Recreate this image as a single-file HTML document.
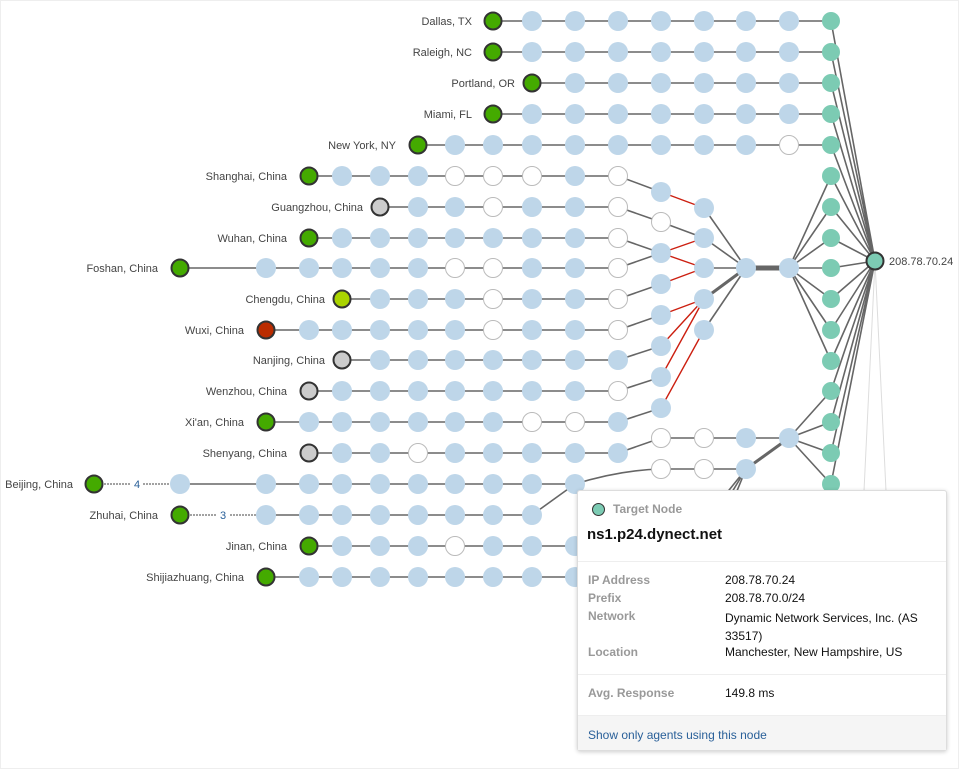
<!DOCTYPE html>
<html><head><meta charset="utf-8"><style>
html,body{margin:0;padding:0;background:#fff;width:960px;height:770px;overflow:hidden;font-family:"Liberation Sans",sans-serif}
svg{position:absolute;left:0;top:0}
.l{fill:none;stroke:#666;stroke-width:1.6}
.r{fill:none;stroke:#cc1f10;stroke-width:1.4}
.b{fill:#bed6e9}
.w{fill:#fff;stroke:#bbb;stroke-width:1}
.t{fill:#7ccbb3}
.g{fill:#44aa00;stroke:#333;stroke-width:2}
.gy{fill:#ccc;stroke:#333;stroke-width:2}
text{font-family:"Liberation Sans",sans-serif;font-size:11px;fill:#444}
#tip{position:absolute;left:577px;top:490px;width:370px;height:261px;background:#fff;border:1px solid #ddd;border-radius:3px;box-shadow:0 1px 4px rgba(0,0,0,.2);box-sizing:border-box;font-size:12px}
.k{position:absolute;left:10px;color:#999;font-weight:bold}
.v{position:absolute;left:147px;color:#111}
</style></head><body>
<svg width="960" height="770" viewBox="0 0 960 770">
<rect x="0.5" y="0.5" width="958" height="768" fill="none" stroke="#eee"/>
<!-- horizontal rows -->
<g class="l">
<path d="M493,21H831M493,52H831M532,83H831M493,114H831M418,145H831"/>
<path d="M309,176H618M380,207H618M309,238H618M180,268H618M342,299H618M266,330H618M342,360H618M309,391H618M266,422H618M309,453H618"/>
<path d="M180,484H575M266,515H532M309,546H600M266,577H600"/>
<path d="M618,176L661,192M618,207L661,222L704,238M618,238L661,253M618,268L661,253M618,299L661,284M618,330L661,315M618,360L661,346M618,391L661,377M618,422L661,408M618,453L661,438H789M575,484Q620,470 661,469H746M532,515L575,484"/>
<path d="M704,208L746,268M704,238L746,268M704,268L746,268M704,330L746,268"/>
<path d="M704,299L746,268" stroke-width="3"/>
<path d="M746,268H789" stroke-width="5"/>
<path d="M789,268L831,176M789,268L831,207M789,268L831,238M789,268L831,268M789,268L831,299M789,268L831,330M789,268L831,361"/>
<path d="M789,438L831,391M789,438L831,422M789,438L831,453M789,438L831,484"/>
<path d="M746,469L789,438" stroke-width="3"/>
<path d="M746,469L705,520M746,469L715,520M746,469L725,520"/>
<path d="M831,21L875,261M831,52L875,261M831,83L875,261M831,114L875,261M831,145L875,261M831,176L875,261M831,207L875,261M831,238L875,261M831,268L875,261M831,299L875,261M831,330L875,261M831,361L875,261M831,391L875,261M831,422L875,261M831,453L875,261M831,484L875,261"/>
</g>
<g class="r">
<path d="M661,192L704,208M661,253L704,238M661,253L704,268M661,284L704,268M661,315L704,299M661,346L704,299M661,377L704,299M661,408L704,330"/>
</g>
<g stroke="#444" stroke-width="1" stroke-dasharray="2,1" fill="none">
<path d="M104,484H131M143,484H170M190,515H216M230,515H256"/>
</g>
<text x="134" y="488" style="fill:#2a6099">4</text>
<text x="220" y="519" style="fill:#2a6099">3</text>
<!-- pointer -->
<path d="M875,261L864,491H886Z" fill="#fff" stroke="#ddd" stroke-width="1"/>
<!-- nodes -->
<g class="b">
<circle cx="532" cy="21" r="10"/><circle cx="575" cy="21" r="10"/><circle cx="618" cy="21" r="10"/><circle cx="661" cy="21" r="10"/><circle cx="704" cy="21" r="10"/><circle cx="746" cy="21" r="10"/><circle cx="789" cy="21" r="10"/>
<circle cx="532" cy="52" r="10"/><circle cx="575" cy="52" r="10"/><circle cx="618" cy="52" r="10"/><circle cx="661" cy="52" r="10"/><circle cx="704" cy="52" r="10"/><circle cx="746" cy="52" r="10"/><circle cx="789" cy="52" r="10"/>
<circle cx="575" cy="83" r="10"/><circle cx="618" cy="83" r="10"/><circle cx="661" cy="83" r="10"/><circle cx="704" cy="83" r="10"/><circle cx="746" cy="83" r="10"/><circle cx="789" cy="83" r="10"/>
<circle cx="532" cy="114" r="10"/><circle cx="575" cy="114" r="10"/><circle cx="618" cy="114" r="10"/><circle cx="661" cy="114" r="10"/><circle cx="704" cy="114" r="10"/><circle cx="746" cy="114" r="10"/><circle cx="789" cy="114" r="10"/>
<circle cx="455" cy="145" r="10"/><circle cx="493" cy="145" r="10"/><circle cx="532" cy="145" r="10"/><circle cx="575" cy="145" r="10"/><circle cx="618" cy="145" r="10"/><circle cx="661" cy="145" r="10"/><circle cx="704" cy="145" r="10"/><circle cx="746" cy="145" r="10"/>
<circle cx="342" cy="176" r="10"/><circle cx="380" cy="176" r="10"/><circle cx="418" cy="176" r="10"/><circle cx="575" cy="176" r="10"/>
<circle cx="418" cy="207" r="10"/><circle cx="455" cy="207" r="10"/><circle cx="532" cy="207" r="10"/><circle cx="575" cy="207" r="10"/>
<circle cx="342" cy="238" r="10"/><circle cx="380" cy="238" r="10"/><circle cx="418" cy="238" r="10"/><circle cx="455" cy="238" r="10"/><circle cx="493" cy="238" r="10"/><circle cx="532" cy="238" r="10"/><circle cx="575" cy="238" r="10"/>
<circle cx="266" cy="268" r="10"/><circle cx="309" cy="268" r="10"/><circle cx="342" cy="268" r="10"/><circle cx="380" cy="268" r="10"/><circle cx="418" cy="268" r="10"/><circle cx="532" cy="268" r="10"/><circle cx="575" cy="268" r="10"/>
<circle cx="380" cy="299" r="10"/><circle cx="418" cy="299" r="10"/><circle cx="455" cy="299" r="10"/><circle cx="532" cy="299" r="10"/><circle cx="575" cy="299" r="10"/>
<circle cx="309" cy="330" r="10"/><circle cx="342" cy="330" r="10"/><circle cx="380" cy="330" r="10"/><circle cx="418" cy="330" r="10"/><circle cx="455" cy="330" r="10"/><circle cx="532" cy="330" r="10"/><circle cx="575" cy="330" r="10"/>
<circle cx="380" cy="360" r="10"/><circle cx="418" cy="360" r="10"/><circle cx="455" cy="360" r="10"/><circle cx="493" cy="360" r="10"/><circle cx="532" cy="360" r="10"/><circle cx="575" cy="360" r="10"/><circle cx="618" cy="360" r="10"/>
<circle cx="342" cy="391" r="10"/><circle cx="380" cy="391" r="10"/><circle cx="418" cy="391" r="10"/><circle cx="455" cy="391" r="10"/><circle cx="493" cy="391" r="10"/><circle cx="532" cy="391" r="10"/><circle cx="575" cy="391" r="10"/>
<circle cx="309" cy="422" r="10"/><circle cx="342" cy="422" r="10"/><circle cx="380" cy="422" r="10"/><circle cx="418" cy="422" r="10"/><circle cx="455" cy="422" r="10"/><circle cx="493" cy="422" r="10"/><circle cx="618" cy="422" r="10"/>
<circle cx="342" cy="453" r="10"/><circle cx="380" cy="453" r="10"/><circle cx="455" cy="453" r="10"/><circle cx="493" cy="453" r="10"/><circle cx="532" cy="453" r="10"/><circle cx="575" cy="453" r="10"/><circle cx="618" cy="453" r="10"/>
<circle cx="180" cy="484" r="10"/><circle cx="266" cy="484" r="10"/><circle cx="309" cy="484" r="10"/><circle cx="342" cy="484" r="10"/><circle cx="380" cy="484" r="10"/><circle cx="418" cy="484" r="10"/><circle cx="455" cy="484" r="10"/><circle cx="493" cy="484" r="10"/><circle cx="532" cy="484" r="10"/><circle cx="575" cy="484" r="10"/>
<circle cx="266" cy="515" r="10"/><circle cx="309" cy="515" r="10"/><circle cx="342" cy="515" r="10"/><circle cx="380" cy="515" r="10"/><circle cx="418" cy="515" r="10"/><circle cx="455" cy="515" r="10"/><circle cx="493" cy="515" r="10"/><circle cx="532" cy="515" r="10"/>
<circle cx="342" cy="546" r="10"/><circle cx="380" cy="546" r="10"/><circle cx="418" cy="546" r="10"/><circle cx="493" cy="546" r="10"/><circle cx="532" cy="546" r="10"/><circle cx="575" cy="546" r="10"/>
<circle cx="309" cy="577" r="10"/><circle cx="342" cy="577" r="10"/><circle cx="380" cy="577" r="10"/><circle cx="418" cy="577" r="10"/><circle cx="455" cy="577" r="10"/><circle cx="493" cy="577" r="10"/><circle cx="532" cy="577" r="10"/><circle cx="575" cy="577" r="10"/>
<circle cx="661" cy="192" r="10"/><circle cx="661" cy="253" r="10"/><circle cx="661" cy="284" r="10"/><circle cx="661" cy="315" r="10"/><circle cx="661" cy="346" r="10"/><circle cx="661" cy="377" r="10"/><circle cx="661" cy="408" r="10"/>
<circle cx="704" cy="208" r="10"/><circle cx="704" cy="238" r="10"/><circle cx="704" cy="268" r="10"/><circle cx="704" cy="299" r="10"/><circle cx="704" cy="330" r="10"/>
<circle cx="746" cy="268" r="10"/><circle cx="789" cy="268" r="10"/><circle cx="746" cy="438" r="10"/><circle cx="789" cy="438" r="10"/><circle cx="746" cy="469" r="10"/>
</g>
<g class="w">
<circle cx="789" cy="145" r="9.5"/>
<circle cx="455" cy="176" r="9.5"/><circle cx="493" cy="176" r="9.5"/><circle cx="532" cy="176" r="9.5"/><circle cx="618" cy="176" r="9.5"/>
<circle cx="493" cy="207" r="9.5"/><circle cx="618" cy="207" r="9.5"/>
<circle cx="618" cy="238" r="9.5"/>
<circle cx="455" cy="268" r="9.5"/><circle cx="493" cy="268" r="9.5"/><circle cx="618" cy="268" r="9.5"/>
<circle cx="493" cy="299" r="9.5"/><circle cx="618" cy="299" r="9.5"/>
<circle cx="493" cy="330" r="9.5"/><circle cx="618" cy="330" r="9.5"/>
<circle cx="618" cy="391" r="9.5"/>
<circle cx="532" cy="422" r="9.5"/><circle cx="575" cy="422" r="9.5"/>
<circle cx="418" cy="453" r="9.5"/>
<circle cx="455" cy="546" r="9.5"/>
<circle cx="661" cy="222" r="9.5"/><circle cx="661" cy="438" r="9.5"/><circle cx="704" cy="438" r="9.5"/><circle cx="661" cy="469" r="9.5"/><circle cx="704" cy="469" r="9.5"/>
</g>
<g class="t">
<circle cx="831" cy="21" r="9"/><circle cx="831" cy="52" r="9"/><circle cx="831" cy="83" r="9"/><circle cx="831" cy="114" r="9"/><circle cx="831" cy="145" r="9"/><circle cx="831" cy="176" r="9"/><circle cx="831" cy="207" r="9"/><circle cx="831" cy="238" r="9"/><circle cx="831" cy="268" r="9"/><circle cx="831" cy="299" r="9"/><circle cx="831" cy="330" r="9"/><circle cx="831" cy="361" r="9"/><circle cx="831" cy="391" r="9"/><circle cx="831" cy="422" r="9"/><circle cx="831" cy="453" r="9"/><circle cx="831" cy="484" r="9"/>
</g>
<circle cx="875" cy="261" r="8.5" fill="#7ccbb3" stroke="#333" stroke-width="2"/>
<text x="889" y="265">208.78.70.24</text>
<g class="g">
<circle cx="493" cy="21" r="8.5"/><circle cx="493" cy="52" r="8.5"/><circle cx="532" cy="83" r="8.5"/><circle cx="493" cy="114" r="8.5"/><circle cx="418" cy="145" r="8.5"/>
<circle cx="309" cy="176" r="8.5"/><circle cx="309" cy="238" r="8.5"/><circle cx="180" cy="268" r="8.5"/><circle cx="266" cy="422" r="8.5"/>
<circle cx="94" cy="484" r="8.5"/><circle cx="180" cy="515" r="8.5"/><circle cx="309" cy="546" r="8.5"/><circle cx="266" cy="577" r="8.5"/>
</g>
<g class="gy"><circle cx="380" cy="207" r="8.5"/><circle cx="342" cy="360" r="8.5"/><circle cx="309" cy="391" r="8.5"/><circle cx="309" cy="453" r="8.5"/></g>
<circle cx="342" cy="299" r="8.5" fill="#aad400" stroke="#333" stroke-width="2"/>
<circle cx="266" cy="330" r="8.5" fill="#bb2c00" stroke="#333" stroke-width="2"/>
<g text-anchor="end">
<text x="472" y="25">Dallas, TX</text>
<text x="472" y="56">Raleigh, NC</text>
<text x="515" y="87">Portland, OR</text>
<text x="472" y="118">Miami, FL</text>
<text x="396" y="149">New York, NY</text>
<text x="287" y="180">Shanghai, China</text>
<text x="363" y="211">Guangzhou, China</text>
<text x="287" y="242">Wuhan, China</text>
<text x="158" y="272">Foshan, China</text>
<text x="325" y="303">Chengdu, China</text>
<text x="244" y="334">Wuxi, China</text>
<text x="325" y="364">Nanjing, China</text>
<text x="287" y="395">Wenzhou, China</text>
<text x="244" y="426">Xi'an, China</text>
<text x="287" y="457">Shenyang, China</text>
<text x="73" y="488">Beijing, China</text>
<text x="158" y="519">Zhuhai, China</text>
<text x="287" y="550">Jinan, China</text>
<text x="244" y="581">Shijiazhuang, China</text>
</g>
</svg>
<div id="tip">
<div style="position:absolute;left:14px;top:12px;width:11px;height:11px;border-radius:50%;background:#7ccbb3;border:1.5px solid #333"></div>
<div style="position:absolute;left:35px;top:11px;color:#999;font-weight:bold;font-size:12px">Target Node</div>
<div style="position:absolute;left:9px;top:35px;color:#111;font-weight:bold;font-size:15px">ns1.p24.dynect.net</div>
<div style="position:absolute;left:0;right:0;top:70px;border-top:1px solid #eee"></div>
<div class="k" style="top:82px">IP Address</div><div class="v" style="top:82px">208.78.70.24</div>
<div class="k" style="top:100px">Prefix</div><div class="v" style="top:100px">208.78.70.0/24</div>
<div class="k" style="top:118px">Network</div><div class="v" style="top:118px;line-height:18px">Dynamic Network Services, Inc. (AS<br>33517)</div>
<div class="k" style="top:154px">Location</div><div class="v" style="top:154px">Manchester, New Hampshire, US</div>
<div style="position:absolute;left:0;right:0;top:183px;border-top:1px solid #eee"></div>
<div class="k" style="top:195px">Avg. Response</div><div class="v" style="top:195px">149.8 ms</div>
<div style="position:absolute;left:0;right:0;top:224px;bottom:0;background:#f5f5f5;border-top:1px solid #eee"></div>
<div style="position:absolute;left:10px;top:237px;color:#2a6099">Show only agents using this node</div>
</div>
</body></html>
